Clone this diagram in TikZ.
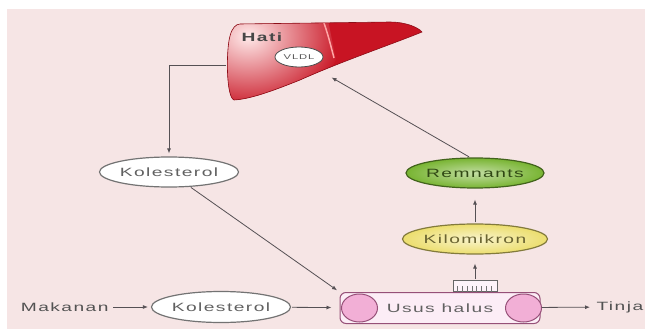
\documentclass[tikz,border=0pt]{standalone}
\usepackage{fontspec}
\setmainfont{Liberation Sans}
\newfontfamily\lblfont[FakeStretch=1.6,LetterSpace=12]{Liberation Sans}
\usetikzlibrary{arrows.meta}
\usetikzlibrary{positioning, shapes.geometric, backgrounds}
\definecolor{bgpink}{RGB}{246,229,229}
\definecolor{lineg}{RGB}{85,80,84}
\definecolor{liverred}{RGB}{200,20,35}
\definecolor{remgreen}{RGB}{120,180,50}
\definecolor{kiloyel}{RGB}{236,222,110}
\definecolor{ususpink}{RGB}{242,175,214}
\definecolor{ususline}{RGB}{150,80,120}
\colorlet{txtgray}{black!62}
\tikzset{
  >=latex,
  lbl/.style={font=\lblfont\fontsize{12}{14}\selectfont,text=txtgray},
  oval/.style={lbl,ellipse,draw=black!55,line width=1.2pt,fill=white,
               minimum width=136,minimum height=30,inner sep=0},
  oval green/.style={oval,draw=remgreen!55!black,inner color=remgreen!45!white,
                     outer color=remgreen,text=black!60!remgreen},
  oval yellow/.style={oval,draw=kiloyel!55!black,inner color=kiloyel!35!white,
                      outer color=kiloyel,text=black!55!kiloyel},
  gut/.style={lbl,rectangle,rounded corners=6,draw=ususline,line width=1pt,
              fill=ususpink!22,minimum width=200,minimum height=31},
  villus/.style={ellipse,draw=ususline,line width=1pt,fill=ususpink,
                 minimum width=36,minimum height=28,inner sep=0},
  flow/.style={-{Latex[length=5pt,width=4pt]},lineg,line width=0.8pt,
               shorten <=1pt,shorten >=3pt}
}
% liver outline, y runs downwards
\def\liverpath{(240,24) -- (390,22) .. controls (405,22) and (418,27) .. (422,32)
  .. controls (390,45) and (340,62) .. (300,80)
  .. controls (270,92) and (250,99) .. (234,100)
  .. controls (226,97) and (226,50) .. (230,36)
  .. controls (232,28) and (236,24) .. (240,24) -- cycle}

\begin{document}
\begin{tikzpicture}[x=1pt,y=-1pt]
\useasboundingbox (0,0) rectangle (645,329);
\fill[bgpink] (7,9) rectangle (645,329);
%
% the liver
\begin{scope}
\clip \liverpath;
\fill[liverred] \liverpath;
\begin{scope}
\clip (200,0) -- (324,0) -- (336,60) -- (300,120) -- (200,120) -- cycle;
\shade[inner color=red!8!white,outer color=liverred] (248,36) ellipse (95 and 75);
\end{scope}
\draw[white!65!red,line width=1.5pt] (323,20) .. controls (328,35) .. (334,58);
\end{scope}
\draw[liverred!70!black,line width=0.6pt] \liverpath;
\node[font=\lblfont\bfseries\fontsize{12}{14}\selectfont,text=black!72] (hati) at (262,37) {Hati};
\node[ellipse,draw=black!70,line width=0.8pt,fill=white,minimum width=48,minimum height=20,
      inner sep=0,font=\lblfont\fontsize{7}{8}\selectfont,text=black!65] (vldl) at (299,57) {VLDL};
\coordinate (hati-w) at (227,65);
\coordinate (hati-s) at (329,76);
%
% right branch
\node[oval] (kol1) at (169,172) {Kolesterol};
\node[oval green] (rem) at (475,173) {Remnants};
\node[oval yellow] (kilo) at (475,239) {Kilomikron};
%
% bottom row
\node[gut] (usus) at (440,308) {Usus halus};
\node[villus] (usus-l) at ([xshift=20]usus.west) {};
\node[villus] (usus-r) at ([xshift=-17]usus.east) {};
\node[rectangle,draw=black!60,line width=0.8pt,fill=white!85!ususpink,minimum width=44,
      minimum height=11,inner sep=0,anchor=south] (brush) at ([xshift=35]usus.north) {};
\foreach \k in {0,...,7}
{\draw[black!55,line width=0.9pt] ([xshift=5+\k*4.8]brush.south west) -- ++(0,-6);}
\node[oval,minimum width=135,minimum height=31] (kol2) at (221,307) {Kolesterol};
\node[lbl,anchor=east,text=black!68] (makan) at (112,307) {Makanan};
\node[lbl,anchor=west,text=black!68] (tinja) at (593,307) {Tinja};
%
\draw[flow] (hati-w) -| (kol1);
\draw[flow] ([xshift=-5]rem.north) -- (hati-s);
\draw[flow,shorten >=11pt] (kilo) -- (rem);
\draw[flow,shorten >=9pt] (brush) -- (kilo);
\draw[flow] (kol1) -- (usus.north west);
\draw[flow] (makan) -- (kol2);
\draw[flow,shorten >=8pt] (kol2) -- (usus);
\draw[flow] (usus) -- (tinja);
\end{tikzpicture}
\end{document}
